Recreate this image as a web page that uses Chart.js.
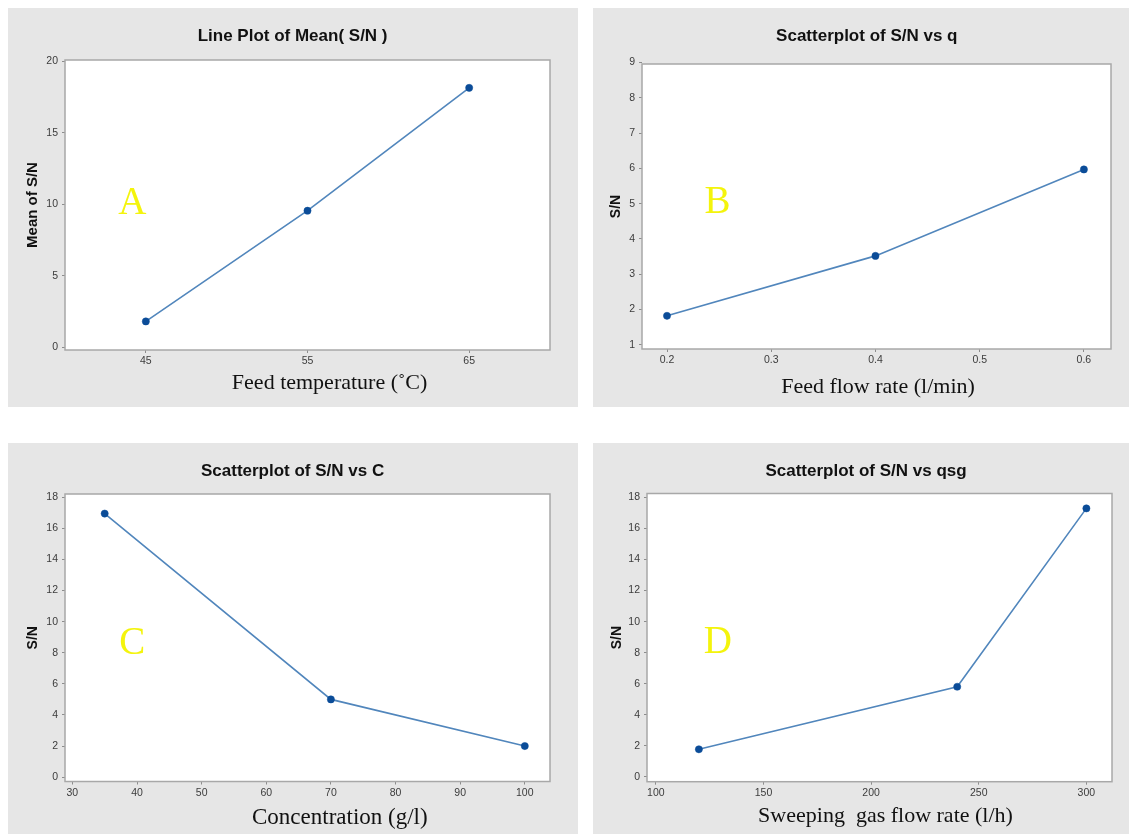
<!DOCTYPE html>
<html>
<head>
<meta charset="utf-8">
<script src="https://cdn.jsdelivr.net/npm/chart.js@4.4.1/dist/chart.umd.min.js"></script>
<style>
  html, body { margin: 0; padding: 0; background: #ffffff; }
  body { width: 1129px; height: 834px; overflow: hidden; position: relative; }
  .panel { position: absolute; background: #e6e6e6; }
  .panel canvas { display: block; }
</style>
</head>
<body>
<div class="panel" style="left:8px;top:8px;width:570px;height:399px"><canvas id="chartA" width="570" height="399"></canvas></div>
<div class="panel" style="left:593px;top:8px;width:550px;height:399px"><canvas id="chartB" width="550" height="399"></canvas></div>
<div class="panel" style="left:8px;top:443px;width:570px;height:400px"><canvas id="chartC" width="570" height="400"></canvas></div>
<div class="panel" style="left:593px;top:443px;width:550px;height:400px"><canvas id="chartD" width="550" height="400"></canvas></div>
<script>
// Feed temperature (°C) vs mean S/N
const feedTemp = [45, 55, 65];
const snFeedTemp = [1.8, 9.55, 18.15];
const feedTempTicks = [45, 55, 65];
const snFeedTempTicks = [0, 5, 10, 15, 20];

// Feed flow rate (l/min) vs S/N
const feedFlow = [0.2, 0.4, 0.6];
const snFeedFlow = [1.82, 3.52, 5.97];
const feedFlowTicks = [0.2, 0.3, 0.4, 0.5, 0.6];
const snFeedFlowTicks = [1, 2, 3, 4, 5, 6, 7, 8, 9];

// Concentration (g/l) vs S/N
const concentration = [35, 70, 100];
const snConcentration = [16.95, 5.0, 2.0];
const concentrationTicks = [30, 40, 50, 60, 70, 80, 90, 100];
const snConcentrationTicks = [0, 2, 4, 6, 8, 10, 12, 14, 16, 18];

// Sweeping gas flow rate (l/h) vs S/N
const sweepFlow = [120, 240, 300];
const snSweepFlow = [1.77, 5.8, 17.3];
const sweepFlowTicks = [100, 150, 200, 250, 300];
const snSweepFlowTicks = [0, 2, 4, 6, 8, 10, 12, 14, 16, 18];

const SANS = "'Liberation Sans', Arial, sans-serif";
const SERIF = "'Liberation Serif', 'Times New Roman', serif";

// Panel background, white plot area, frame, heading, x caption and panel letter
const panelDecor = {
  id: 'panelDecor',
  beforeDraw(chart, args, o) {
    const { ctx, chartArea: a } = chart;
    ctx.save();
    ctx.fillStyle = '#e6e6e6';
    ctx.fillRect(0, 0, chart.width, chart.height);
    ctx.fillStyle = '#ffffff';
    ctx.fillRect(a.left, a.top, a.right - a.left, a.bottom - a.top);
    ctx.restore();
  },
  afterDraw(chart, args, o) {
    const { ctx, chartArea: a } = chart;
    ctx.save();
    ctx.strokeStyle = '#a8a8a8';
    ctx.lineWidth = 1.5;
    ctx.strokeRect(a.left, a.top, a.right - a.left, a.bottom - a.top);

    ctx.fillStyle = '#111111';
    ctx.textAlign = 'center';
    ctx.textBaseline = 'middle';
    ctx.font = 'bold 17px ' + SANS;
    ctx.fillText(o.heading, o.headingX, o.headingY);

    ctx.font = o.captionSize + 'px ' + SERIF;
    ctx.fillText(o.caption, o.captionX, o.captionY);

    ctx.fillStyle = '#f4f40c';
    ctx.textBaseline = 'alphabetic';
    ctx.font = '39px ' + SERIF;
    ctx.fillText(o.letter, o.letterX, o.letterY);
    ctx.restore();
  }
};

function makePanel(id, cfg) {
  const points = cfg.xs.map((x, i) => ({ x: x, y: cfg.ys[i] }));
  const tickStyle = { color: '#3c3c3c', font: { family: SANS, size: 10.5 }, autoSkip: false, maxRotation: 0, callback: v => String(v) };
  const gridStyle = { display: true, drawOnChartArea: false, drawTicks: true, tickLength: 3, color: '#8c8c8c' };
  return new Chart(document.getElementById(id), {
    type: 'scatter',
    data: {
      datasets: [{
        data: points,
        showLine: true,
        borderColor: '#5186bc',
        borderWidth: 1.6,
        pointRadius: 3.6,
        pointBackgroundColor: '#0b4c98',
        pointBorderColor: '#0b4c98',
        pointBorderWidth: 0.5
      }]
    },
    options: {
      responsive: false,
      animation: false,
      events: [],
      layout: { padding: { left: 0, top: cfg.plotTop, right: cfg.plotRight, bottom: 0 } },
      plugins: {
        legend: { display: false },
        tooltip: { enabled: false },
        title: { display: false },
        panelDecor: cfg.decor
      },
      scales: {
        x: {
          type: 'linear',
          min: cfg.xMin, max: cfg.xMax,
          afterBuildTicks: s => { s.ticks = cfg.xTicks.map(v => ({ value: v })); },
          afterFit: s => { s.height = cfg.xAxisHeight; },
          grid: gridStyle,
          border: { display: false },
          ticks: Object.assign({ padding: 2 }, tickStyle)
        },
        y: {
          type: 'linear',
          min: cfg.yMin, max: cfg.yMax,
          afterBuildTicks: s => { s.ticks = cfg.yTicks.map(v => ({ value: v })); },
          afterFit: s => { s.width = cfg.yAxisWidth; },
          grid: gridStyle,
          border: { display: false },
          ticks: Object.assign({ padding: 4 }, tickStyle),
          title: {
            display: true,
            text: cfg.yTitle,
            color: '#111111',
            font: { family: SANS, size: cfg.yTitleSize, weight: 'bold' },
            padding: { top: cfg.yTitlePad, bottom: 0 }
          }
        }
      }
    },
    plugins: [panelDecor]
  });
}

makePanel('chartA', {
  xs: feedTemp, ys: snFeedTemp, xTicks: feedTempTicks, yTicks: snFeedTempTicks,
  xMin: 40, xMax: 70, yMin: -0.2, yMax: 20.1,
  plotTop: 52, plotRight: 28, xAxisHeight: 57, yAxisWidth: 57,
  yTitle: 'Mean of S/N', yTitleSize: 15, yTitlePad: 16.3,
  decor: { heading: 'Line Plot of Mean( S/N )', headingX: 284.6, headingY: 28,
           caption: 'Feed temperature (\u02DAC)', captionSize: 22, captionX: 321.6, captionY: 375,
           letter: 'A', letterX: 124.4, letterY: 206 }
});

makePanel('chartB', {
  xs: feedFlow, ys: snFeedFlow, xTicks: feedFlowTicks, yTicks: snFeedFlowTicks,
  xMin: 0.176, xMax: 0.626, yMin: 0.88, yMax: 8.96,
  plotTop: 56, plotRight: 32, xAxisHeight: 58, yAxisWidth: 49,
  yTitle: 'S/N', yTitleSize: 14, yTitlePad: 14.6,
  decor: { heading: 'Scatterplot of S/N vs q', headingX: 273.8, headingY: 28,
           caption: 'Feed flow rate (l/min)', captionSize: 22, captionX: 285, captionY: 379,
           letter: 'B', letterX: 124.6, letterY: 205.3 }
});

makePanel('chartC', {
  xs: concentration, ys: snConcentration, xTicks: concentrationTicks, yTicks: snConcentrationTicks,
  xMin: 28.86, xMax: 103.9, yMin: -0.28, yMax: 18.21,
  plotTop: 51, plotRight: 28, xAxisHeight: 61.5, yAxisWidth: 57,
  yTitle: 'S/N', yTitleSize: 14, yTitlePad: 16.9,
  decor: { heading: 'Scatterplot of S/N vs C', headingX: 284.6, headingY: 28.7,
           caption: 'Concentration (g/l)', captionSize: 23, captionX: 331.8, captionY: 375,
           letter: 'C', letterX: 124.2, letterY: 211 }
});

makePanel('chartD', {
  xs: sweepFlow, ys: snSweepFlow, xTicks: sweepFlowTicks, yTicks: snSweepFlowTicks,
  xMin: 95.9, xMax: 311.9, yMin: -0.32, yMax: 18.26,
  plotTop: 50.5, plotRight: 31, xAxisHeight: 61.3, yAxisWidth: 54,
  yTitle: 'S/N', yTitleSize: 14, yTitlePad: 15.4,
  decor: { heading: 'Scatterplot of S/N vs qsg', headingX: 273, headingY: 28.7,
           caption: 'Sweeping  gas flow rate (l/h)', captionSize: 22, captionX: 292.5, captionY: 373.7,
           letter: 'D', letterX: 124.8, letterY: 210.3 }
});
</script>
</body>
</html>
